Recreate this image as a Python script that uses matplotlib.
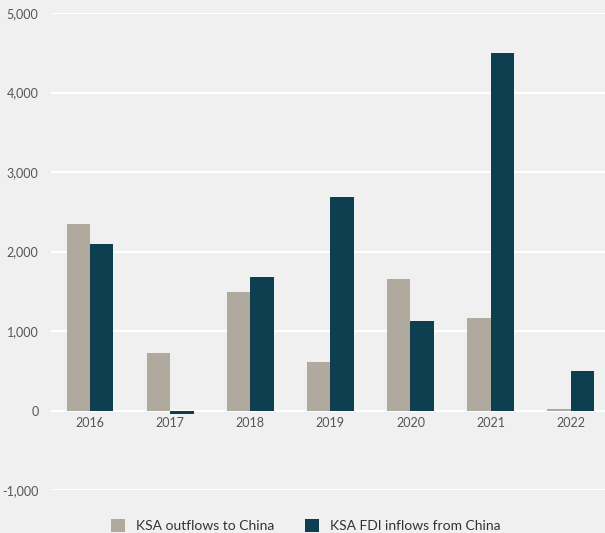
import numpy as np
import matplotlib.pyplot as plt

years = ['2016', '2017', '2018', '2019', '2020', '2021', '2022']
outflows = [2350, 720, 1490, 615, 1660, 1160, 15]
fdi_inflows = [2100, -40, 1680, 2690, 1130, 4500, 500]

bg = '#f0f0f0'
plt.rcParams['font.family'] = ['Lato', 'DejaVu Sans']

fig = plt.figure(figsize=(6.05, 5.33), dpi=100, facecolor=bg)
ax = fig.add_axes([51/605, 43/533, 554/605, 477/533], facecolor=bg)

x = np.arange(len(years))
w = 0.29
ax.bar(x - w/2, outflows, w, color='#b0a99e', label='KSA outflows to China', zorder=3)
ax.bar(x + w/2, fdi_inflows, w, color='#0d3f51', label='KSA FDI inflows from China', zorder=3)

ax.set_ylim(-1000, 5000)
ax.set_yticks(range(-1000, 5001, 1000))
ax.set_yticklabels([f'{v:,}' for v in range(-1000, 5001, 1000)])
ax.set_xlim(-0.49, 6.43)
ax.set_xticks(x)
ax.set_xticklabels(years)
ax.grid(axis='y', color='white', linewidth=1.5, zorder=0)
for s in ax.spines.values():
    s.set_visible(False)
ax.tick_params(length=0, colors='#555555', labelsize=9)
ax.tick_params(axis='y', pad=9)
# year labels sit just under the zero line
for lbl in ax.get_xticklabels():
    lbl.set_transform(ax.get_xaxis_transform())
    lbl.set_y((0 - (-1000)) / 6000 - 0.013)
    lbl.set_va('top')

ax.legend(loc='lower center', bbox_to_anchor=(0.46, -0.115), ncol=2, frameon=False,
          fontsize=10, handlelength=1.0, handleheight=1.0, columnspacing=2.2,
          labelcolor='#333333')

fig.savefig('out.png', dpi=100, facecolor=bg)
